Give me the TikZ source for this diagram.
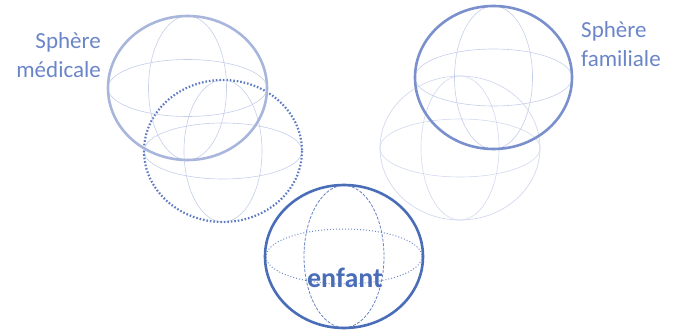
\documentclass[tikz,border=0pt]{standalone}
\usepackage{fontspec}
\setmainfont{Carlito}
\begin{document}
\begin{tikzpicture}[x=1pt,y=-1pt,
  thin line/.style={draw=gridc, line width=0.6pt},
  lbl/.style={text=txtc, font=\fontsize{23}{29}\selectfont, inner sep=0pt}]
\definecolor{gridc}{HTML}{C5CEEA}
\definecolor{txtc}{HTML}{6A85C8}
\definecolor{medc}{HTML}{A9B6DC}
\definecolor{famc}{HTML}{7A90CC}
\definecolor{dotc}{HTML}{5E7BC2}
\definecolor{enfc}{HTML}{4A6DB8}
\definecolor{faintc}{HTML}{D2D9EF}
\useasboundingbox (0,0) rectangle (673,331);
% sphere 4 (faint, familiale lower)
\coordinate (s4) at (460,148);
\draw[draw=faintc, line width=0.7pt] (s4) ellipse [x radius=80, y radius=72];
\draw[draw=faintc, line width=0.6pt] (s4) ellipse [x radius=80, y radius=29];
\draw[draw=faintc, line width=0.6pt] (s4) ellipse [x radius=39, y radius=72];
% sphere 2 (dotted)
\coordinate (s2) at (223,151);
\draw[thin line] (s2) ellipse [x radius=79, y radius=28];
\draw[thin line] (s2) ellipse [x radius=39, y radius=71];
\draw[draw=dotc, line width=2.2pt, dash pattern=on 1.6pt off 1.9pt] (s2) ellipse [x radius=79, y radius=71];
% sphere 1 (medicale)
\coordinate (s1) at (187.5,88);
\draw[thin line] (s1) ellipse [x radius=79.5, y radius=28.5];
\draw[thin line] (s1) ellipse [x radius=39, y radius=72];
\draw[draw=medc, line width=2.6pt] (s1) ellipse [x radius=79.5, y radius=72];
% sphere 3 (familiale)
\coordinate (s3) at (493.5,77.5);
\draw[thin line] (s3) ellipse [x radius=78.5, y radius=28.5];
\draw[thin line] (s3) ellipse [x radius=39, y radius=71.5];
\draw[draw=famc, line width=2.6pt] (s3) ellipse [x radius=78.5, y radius=71.5];
% sphere 5 (enfant)
\coordinate (s5) at (344,256.5);
\draw[draw=enfc!80, line width=1pt, dotted] (s5) ellipse [x radius=78, y radius=27.5];
\draw[draw=enfc!85, line width=0.8pt, dash pattern=on 3pt off 1.5pt] (s5) ellipse [x radius=40, y radius=71];
\draw[draw=enfc, line width=2.6pt] (s5) ellipse [x radius=79, y radius=71.5];
\node[text=enfc, font=\fontsize{28}{32}\selectfont\bfseries, inner sep=0pt] (enf) at (345,278) {enfant};
% labels
\node[lbl, anchor=east, align=right] (med) at (101,55) {Sphère\\médicale};
\node[lbl, anchor=west, align=left] (fam) at (581,44) {Sphère\\familiale};
\end{tikzpicture}
\end{document}
